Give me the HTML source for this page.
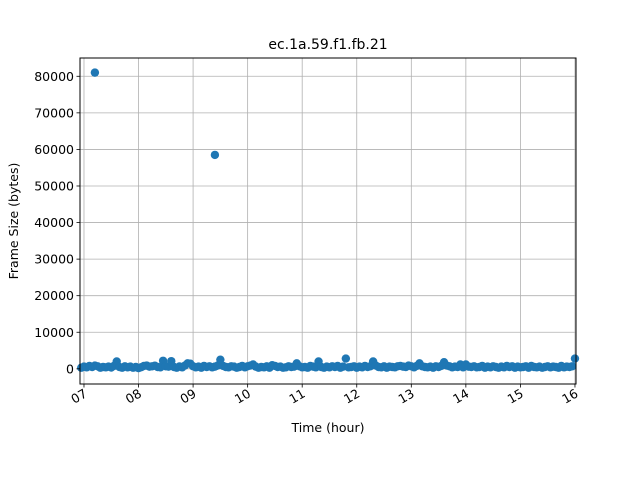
<!DOCTYPE html>
<html><head><meta charset="utf-8"><style>
body{margin:0;background:#fff}
svg text{font-family:"DejaVu Sans","Liberation Sans",sans-serif;fill:#000}
</style></head><body>
<svg id="chart" width="640" height="480" xmlns="http://www.w3.org/2000/svg">
<rect width="640" height="480" fill="#fff"/>
<g id="grid"></g>
<g id="marks"></g>
<rect x="80" y="58" width="496" height="326" fill="none" stroke="#000" stroke-width="1"/>
<g id="axes"></g>
<text x="328" y="49" font-size="14" text-anchor="middle">ec.1a.59.f1.fb.21</text>
<text x="328" y="432" font-size="12.5" text-anchor="middle">Time (hour)</text>
<text transform="translate(18,221) rotate(-90)" font-size="12.5" text-anchor="middle">Frame Size (bytes)</text>
</svg>
<script>
const xTickLabels=["07","08","09","10","11","12","13","14","15","16"];
const xTickValues=[7,8,9,10,11,12,13,14,15,16];
const yTickValues=[0,10000,20000,30000,40000,50000,60000,70000,80000];
const times=[6.95,
7.0,7.05,7.1,7.15,7.2,7.25,7.3,7.35,7.4,7.45,
7.5,7.55,7.6,7.65,7.7,7.75,7.8,7.85,7.9,7.95,
8.0,8.05,8.1,8.15,8.2,8.25,8.3,8.35,8.4,8.45,
8.5,8.55,8.6,8.65,8.7,8.75,8.8,8.85,8.9,8.95,
9.0,9.05,9.1,9.15,9.2,9.25,9.3,9.35,9.4,9.45,
9.5,9.55,9.6,9.65,9.7,9.75,9.8,9.85,9.9,9.95,
10.0,10.05,10.1,10.15,10.2,10.25,10.3,10.35,10.4,10.45,
10.5,10.55,10.6,10.65,10.7,10.75,10.8,10.85,10.9,10.95,
11.0,11.05,11.1,11.15,11.2,11.25,11.3,11.35,11.4,11.45,
11.5,11.55,11.6,11.65,11.7,11.75,11.8,11.85,11.9,11.95,
12.0,12.05,12.1,12.15,12.2,12.25,12.3,12.35,12.4,12.45,
12.5,12.55,12.6,12.65,12.7,12.75,12.8,12.85,12.9,12.95,
13.0,13.05,13.1,13.15,13.2,13.25,13.3,13.35,13.4,13.45,
13.5,13.55,13.6,13.65,13.7,13.75,13.8,13.85,13.9,13.95,
14.0,14.05,14.1,14.15,14.2,14.25,14.3,14.35,14.4,14.45,
14.5,14.55,14.6,14.65,14.7,14.75,14.8,14.85,14.9,14.95,
15.0,15.05,15.1,15.15,15.2,15.25,15.3,15.35,15.4,15.45,
15.5,15.55,15.6,15.65,15.7,15.75,15.8,15.85,15.9,15.95,
16.0];
const sizes=[300,
600,400,800,500,900,700,300,500,400,600,
350,800,2000,500,300,700,400,600,300,500,
200,450,800,900,600,700,850,500,400,2200,
700,600,2100,500,300,650,400,900,1500,1400,
700,400,600,300,800,500,700,400,600,900,
2500,800,500,400,700,600,300,500,800,400,
700,900,1200,600,300,500,400,700,300,1000,
800,500,600,300,400,700,500,600,1500,700,
400,500,300,800,600,400,2000,500,300,600,
400,700,500,800,300,600,2800,400,500,700,
300,600,400,800,500,700,2000,900,500,400,
700,300,600,500,400,700,800,600,500,900,
700,400,800,1500,700,500,400,600,300,700,
500,800,1800,900,700,400,600,500,1200,400,
1200,600,500,700,400,500,800,300,600,400,
700,500,300,600,400,800,500,700,300,600,
400,500,700,300,800,500,400,600,300,500,
700,400,600,500,300,800,400,600,500,700,
2800];
const outlierTimes=[7.2,9.4];
const outlierSizes=[81000,58500];
const NS="http://www.w3.org/2000/svg";
const X0=80,X1=576,Y0=384,Y1=58;
const xMin=6.927,xMax=16.019,yMin=-4150,yMax=85000;
const xs=v=>X0+(v-xMin)/(xMax-xMin)*(X1-X0);
const ys=v=>Y0-(v-yMin)/(yMax-yMin)*(Y0-Y1);
function mk(tag,attrs,parent){const e=document.createElementNS(NS,tag);for(const k in attrs)e.setAttribute(k,attrs[k]);parent.appendChild(e);return e;}
const grid=document.getElementById('grid'),axes=document.getElementById('axes'),marks=document.getElementById('marks');
xTickValues.forEach((v,i)=>{
  const x=xs(v);
  const g=mk('line',{x1:x,x2:x,y1:Y1,y2:Y0,stroke:'#b0b0b0','stroke-width':0.8},grid);
  
  
  const t=mk('line',{x1:x,x2:x,y1:Y0,y2:Y0+3.5,stroke:'#000','stroke-width':0.8},axes);
  
  
  const l=mk('text',{'font-size':12.5,'text-anchor':'end',transform:`translate(${x+4},${Y0+12}) rotate(-30)`},axes);
  l.textContent=xTickLabels[i];
  
  
});
yTickValues.forEach(v=>{
  const y=ys(v);
  const g=mk('line',{x1:X0,x2:X1,y1:y,y2:y,stroke:'#b0b0b0','stroke-width':0.8},grid);
  
  
  const t=mk('line',{x1:X0-3.5,x2:X0,y1:y,y2:y,stroke:'#000','stroke-width':0.8},axes);
  
  
  const l=mk('text',{'font-size':12.5,'text-anchor':'end',x:X0-6,y:y+4.5},axes);
  l.textContent=String(v);
  
  
});
const allT=times.concat(outlierTimes),allS=sizes.concat(outlierSizes);
allT.forEach((t,i)=>{
  const c=mk('circle',{cx:xs(t),cy:ys(allS[i]),r:4.2,fill:'#1f77b4'},marks);
  
  
});
</script>
</body></html>
